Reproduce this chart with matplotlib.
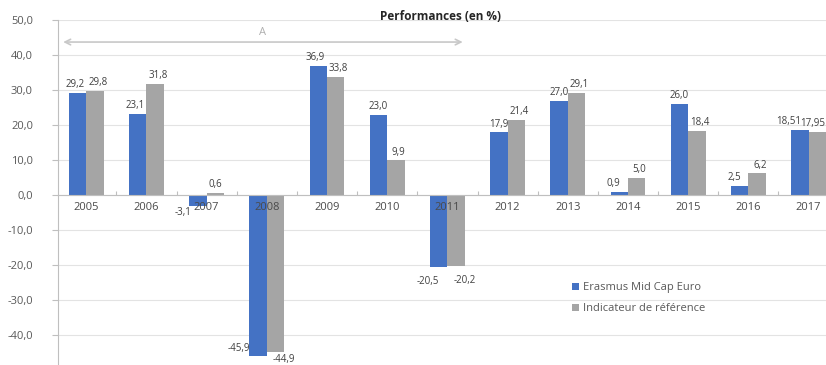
import matplotlib.pyplot as plt
import numpy as np

years = ['2005', '2006', '2007', '2008', '2009', '2010', '2011',
         '2012', '2013', '2014', '2015', '2016', '2017']
fund = [29.2, 23.1, -3.1, -45.9, 36.9, 23.0, -20.5, 17.9, 27.0, 0.9, 26.0, 2.5, 18.51]
bench = [29.8, 31.8, 0.6, -44.9, 33.8, 9.9, -20.2, 21.4, 29.1, 5.0, 18.4, 6.2, 17.95]
fund_txt = ['29,2', '23,1', '-3,1', '-45,9', '36,9', '23,0', '-20,5',
            '17,9', '27,0', '0,9', '26,0', '2,5', '18,51']
bench_txt = ['29,8', '31,8', '0,6', '-44,9', '33,8', '9,9', '-20,2',
             '21,4', '29,1', '5,0', '18,4', '6,2', '17,95']
series_names = ['Erasmus Mid Cap Euro', 'Indicateur de référence']

# label nudges in points (dx, dy)
fund_off = [(-2, 2), (-2, 2), (-11, -1), (-14, 1), (-2, 2), (0, 2), (-8, -7),
            (0, 2), (0, 2), (-4, 2), (0, 2), (-4, 2), (-8, 2)]
bench_off = [(2, 2), (2, 2), (0, 2), (6, -1), (2, 2), (2, 2), (6, -7),
             (2, 2), (2, 2), (2, 2), (2, 2), (2, 2), (-3, 2)]

blue = '#4472C4'
grey = '#A5A5A5'
txt = '#595959'

plt.rcParams['font.family'] = ['Open Sans', 'DejaVu Sans']

fig = plt.figure(figsize=(8.26, 3.65), dpi=100)
ax = fig.add_axes([58 / 826, -5 / 365, 768 / 826, 350 / 365])

x = np.arange(len(years))
w = 0.29
ax.bar(x - w / 2, fund, w, color=blue, label=series_names[0], zorder=3)
ax.bar(x + w / 2, bench, w, color=grey, label=series_names[1], zorder=3)

for i in range(len(years)):
    for val, lab, off, dx in ((fund[i], fund_txt[i], fund_off[i], -w / 2),
                              (bench[i], bench_txt[i], bench_off[i], w / 2)):
        va = 'bottom' if off[1] > 0 else 'top'
        ax.annotate(lab, (x[i] + dx, val), xytext=off, textcoords='offset points',
                    ha='center', va=va, fontsize=7, color='#404040', zorder=5)
    # category labels drawn over the bars, just under the zero line
    ax.annotate(years[i], (x[i], 0), xytext=(0, -5), textcoords='offset points',
                ha='center', va='top', fontsize=8, color='#4a4a4a', zorder=6)

yt = np.arange(-50, 51, 10)
ax.set_xlim(-0.47, 12.29)
ax.set_ylim(-50, 50)
ax.set_yticks(yt)
ax.set_yticklabels([('%.1f' % v).replace('.', ',') for v in yt])
ax.tick_params(axis='y', length=4, color='#BFBFBF', pad=14, labelsize=8, labelcolor=txt)
ax.grid(axis='y', color='#E3E3E3', linewidth=0.8, zorder=0)

ax.set_xticks(x[:-1] + 0.5)
ax.set_xticklabels([])
ax.tick_params(axis='x', length=3, color='#BFBFBF', direction='in')
ax.spines['bottom'].set_position(('data', 0))
ax.spines['bottom'].set_color('#BFBFBF')
ax.spines['bottom'].set_zorder(4)
ax.spines['left'].set_color('#BFBFBF')
ax.spines['top'].set_visible(False)
ax.spines['right'].set_visible(False)

ax.annotate('', xy=(-0.43, 43.7), xytext=(6.3, 43.7),
            arrowprops=dict(arrowstyle='<->', color='#C8C8C8', lw=1.2))
ax.text(2.92, 46.3, 'A', ha='center', va='center', fontsize=8, color='#B0B0B0')

fig.text(440 / 826, 1 - 17 / 365, 'Performances (en %)', ha='center', va='center',
         fontsize=8.5, fontweight='bold', color='#262626')

ax.legend(loc='center left', bbox_to_anchor=(562 / 826, 1 - 298 / 365),
          bbox_transform=fig.transFigure, frameon=False, fontsize=8,
          handlelength=0.6, handleheight=0.6, handletextpad=0.4,
          labelspacing=0.9, labelcolor=txt)

fig.savefig('out.png', dpi=100)
